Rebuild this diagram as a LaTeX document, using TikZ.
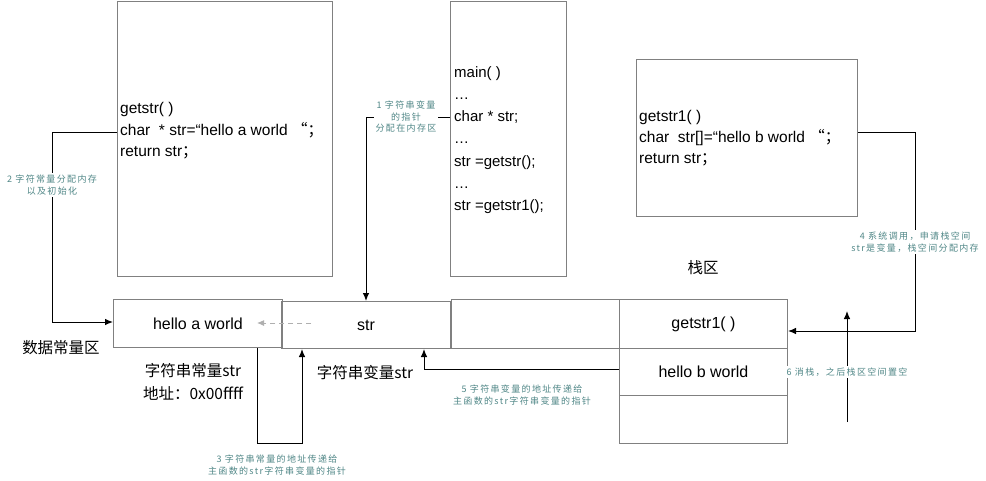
\documentclass[tikz,border=0pt]{standalone}
\usepackage{fontspec}
\setmainfont{Liberation Sans}
\newfontfamily\cjk{Noto Sans CJK SC}
\newfontfamily\notefont[LetterSpace=15]{Noto Sans CJK SC}
\usetikzlibrary{arrows.meta}
\definecolor{boxgray}{RGB}{128,128,128}
\definecolor{noteteal}{RGB}{80,135,135}
\definecolor{dashgray}{RGB}{175,175,175}
% full-width punctuation as set by a CJK font
\newcommand{\wq}{{\cjk “}}
\newcommand{\wsemi}{{\cjk ；}}

\begin{document}
\begin{tikzpicture}[x=1pt,y=-1pt,
  box/.style={draw=boxgray,line width=1pt,inner sep=0pt,anchor=north west},
  cell/.style={box,minimum width=#1,minimum height=48pt,font=\fontsize{16}{19}\selectfont},
  code/.style={inner sep=0pt,anchor=west,align=left,font=\fontsize{15.5}{21.5}\selectfont},
  label/.style={font=\cjk\fontsize{15.5}{23}\selectfont,inner sep=0pt,align=center},
  note/.style={font=\notefont\fontsize{9}{11.5}\selectfont,text=noteteal,align=center,inner sep=2pt},
  arr/.style={draw=black,line width=1pt,-{Latex[length=8pt,width=6.5pt]}},
  dasharr/.style={draw=dashgray,line width=1pt,dash pattern=on 5pt off 4pt,-{Latex[length=7pt,width=6pt]}}
]
\fill[white] (0,0) rectangle (986,480);
\useasboundingbox (0,0) rectangle (986,480);

% function frames
\node[box,minimum width=215pt,minimum height=275pt] (getstr) at (117,1) {};
\node[box,minimum width=116pt,minimum height=275pt] (main) at (450,1) {};
\node[box,minimum width=221pt,minimum height=157pt] (getstrone) at (636,59) {};

\node[code] (getstrcode) at (120,131) {getstr( )\\char\ \ * str=“hello a world \wq\wsemi\\return str\wsemi};
\node[code,font=\fontsize{15}{22.2}\selectfont] (maincode) at (454,140)
  {main( )\\…\\char * str;\\…\\str =getstr();\\…\\str =getstr1();};
\node[code,font=\fontsize{15.5}{21}\selectfont] (getstronecode) at (639,138)
  {getstr1( )\\char\ \ str[]=“hello b world \wq\wsemi\\return str\wsemi};

% memory cells
\node[cell=169pt] (hstr) at (113,299) {hello a world};
\node[cell=169pt,minimum height=47pt] (strv) at (281,301) {str};
\node[cell=168pt,minimum height=49pt] (empty) at (451,299) {};
\node[cell=168pt,minimum height=49pt] (fgone) at (619,299) {getstr1( )};
\node[cell=168pt,minimum height=47pt] (hb) at (619,348) {hello b world};
\node[cell=168pt,minimum height=48pt] (bottom) at (619,395) {};

% area captions
\node[label] (dataarea) at (61,348) {数据常量区};
\node[label] (conststr) at (193,382) {字符串常量str\\地址：0x00ffff};
\node[label] (varstr) at (365,373) {字符串变量str};
\node[label] (stackarea) at (703,268) {栈区};

% corner points of the connectors
\coordinate (k1) at (366,117);
\coordinate (k2) at (52,132);
\coordinate (k3a) at (257,443);
\coordinate (k3b) at (302,443);
\coordinate (k4a) at (915,132);
\coordinate (k4b) at (915,331);
\coordinate (k5) at (424,369);
\coordinate (k6a) at (847,422);
\coordinate (k6b) at (847,311);
\coordinate (k7a) at (311,323);
\coordinate (k7b) at (257,323);

% connectors
\draw[arr] (main.west |- k1) -| (strv.north -| k1);
\draw[arr] (getstr.west |- k2) -- (k2) |- (hstr.west |- 0,322);
\draw[arr] (hstr.south -| k3a) -- (k3a) -- (k3b) -- (strv.south -| k3b);
\draw[arr] (getstrone.east |- k4a) -- (k4a) -- (k4b) -- (fgone.east |- k4b);
\draw[arr] (hb.west |- k5) -| (strv.south -| k5);
\draw[arr] (k6a) -- (k6b);
\draw[dasharr] (k7a) -- (k7b);

% step notes
\node[note,fill=white] (n1) at (406,117) {1 字符串变量\\的指针\\分配在内存区};
\node[note,fill=white] (n2) at (52,185) {2 字符常量分配内存\\以及初始化};
\node[note] (n3) at (277,465) {3 字符串常量的地址传递给\\主函数的str字符串变量的指针};
\node[note,fill=white] (n4) at (915,242) {4 系统调用，申请栈空间\\str是变量，栈空间分配内存};
\node[note] (n5) at (522,395) {5 字符串变量的地址传递给\\主函数的str字符串变量的指针};
\node[note,fill=white] (n6) at (847,372) {6 消栈，之后栈区空间置空};
\end{tikzpicture}
\end{document}
